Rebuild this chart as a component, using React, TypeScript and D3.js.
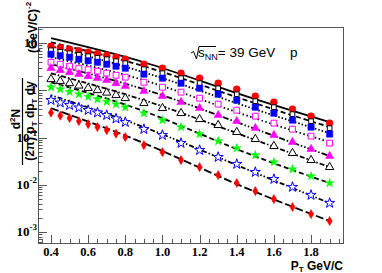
import React, { useEffect, useRef } from "react";
import * as d3 from "d3";

// pT bins (GeV/c)
const pt = [0.4, 0.45, 0.5, 0.55, 0.6, 0.65, 0.7, 0.75, 0.8, 0.9, 1.0, 1.1, 1.2, 1.3, 1.4, 1.5, 1.6, 1.7, 1.8, 1.9];

// spectra, top to bottom
const redCircles = [8.64, 8.03, 7.46, 6.94, 6.45, 6.0, 5.57, 5.05, 4.59, 3.59, 2.96, 2.32, 1.82, 1.42, 1.06, 0.756, 0.564, 0.401, 0.285, 0.203];
const blackOpenSquares = [7.11, 6.61, 6.14, 5.71, 5.31, 4.94, 4.58, 4.16, 3.78, 2.81, 2.32, 1.82, 1.43, 1.11, 0.83, 0.593, 0.442, 0.314, 0.223, 0.159];
const blueSquares = [5.85, 5.44, 5.05, 4.59, 4.26, 3.96, 3.59, 3.26, 2.96, 2.21, 1.82, 1.42, 1.12, 0.833, 0.622, 0.442, 0.33, 0.235, 0.167, 0.119];
const magentaOpenSquares = [3.96, 3.59, 3.26, 2.96, 2.75, 2.56, 2.32, 2.1, 1.91, 1.49, 1.17, 0.918, 0.685, 0.512, 0.382, 0.285, 0.203, 0.151, 0.1076, 0.0765];
const magentaTriangles = [2.96, 2.68, 2.43, 2.21, 2.0, 1.82, 1.65, 1.42, 1.23, 0.964, 0.756, 0.564, 0.421, 0.299, 0.223, 0.159, 0.113, 0.0803, 0.0571, 0.0406];
const blackOpenTriangles = [1.73, 1.57, 1.42, 1.26, 1.12, 1.01, 0.896, 0.793, 0.685, 0.537, 0.421, 0.33, 0.246, 0.184, 0.131, 0.093, 0.0661, 0.047, 0.0334, 0.0237];
const greenStars = [1.17, 1.06, 0.941, 0.833, 0.737, 0.653, 0.578, 0.512, 0.442, 0.33, 0.235, 0.167, 0.119, 0.0843, 0.06, 0.0426, 0.0303, 0.0215, 0.0153, 0.0109];
const blueOpenStars = [0.622, 0.55, 0.487, 0.431, 0.382, 0.338, 0.299, 0.252, 0.213, 0.151, 0.113, 0.0765, 0.0544, 0.0387, 0.0275, 0.0186, 0.0132, 0.00896, 0.00607, 0.00411];
const redDiamonds = [0.338, 0.292, 0.259, 0.223, 0.193, 0.167, 0.144, 0.1215, 0.1025, 0.0694, 0.0493, 0.0334, 0.0237, 0.0161, 0.0109, 0.00737, 0.00499, 0.00338, 0.0024, 0.00171];

// fit curves, sampled at a few pT
const fitPt = [0.4, 0.9, 1.4, 1.9];
const fitRedCircles = [12.8, 3.96, 0.875, 0.213];
const fitBlackOpenSquares = [10.5, 3.26, 0.72, 0.167];
const fitBlueSquares = [8.64, 2.43, 0.537, 0.1245];
const fitMagentaOpenSquares = [5.05, 1.65, 0.347, 0.0803];
const fitMagentaTriangles = [3.59, 1.06, 0.213, 0.0406];
const fitBlackOpenTriangles = [2.32, 0.622, 0.1245, 0.0237];
const fitGreenStars = [1.49, 0.364, 0.0571, 0.0109];
const fitBlueOpenStars = [0.793, 0.167, 0.0262, 0.00411];
const fitRedDiamonds = [0.421, 0.0765, 0.01037, 0.00171];

const xTickLabels = [0.4, 0.6, 0.8, 1.0, 1.2, 1.4, 1.6, 1.8];
const yDecades = [-3, -2, -1, 0, 1];

const series = [
  { vals: redCircles, fit: fitRedCircles, sym: d3.symbolCircle, size: 38, color: "#ff0000", filled: true, dash: null },
  { vals: blackOpenSquares, fit: fitBlackOpenSquares, sym: d3.symbolSquare, size: 22, color: "#000", filled: false, dash: "5 3" },
  { vals: blueSquares, fit: fitBlueSquares, sym: d3.symbolSquare, size: 40, color: "#0000ff", filled: true, dash: "1.5 2" },
  { vals: magentaOpenSquares, fit: fitMagentaOpenSquares, sym: d3.symbolSquare, size: 34, color: "#ff00ff", filled: false, dash: "1.5 2.5" },
  { vals: magentaTriangles, fit: fitMagentaTriangles, sym: d3.symbolTriangle, size: 30, color: "#ff00ff", filled: true, dash: "6 2 1.5 2 1.5 2" },
  { vals: blackOpenTriangles, fit: fitBlackOpenTriangles, sym: d3.symbolTriangle, size: 30, color: "#000", filled: false, dash: "5 2 1.5 2" },
  { vals: greenStars, fit: fitGreenStars, sym: d3.symbolStar, size: 24, color: "#00ff00", filled: true, dash: "5 3" },
  { vals: blueOpenStars, fit: fitBlueOpenStars, sym: d3.symbolStar, size: 32, color: "#0000ff", filled: false, dash: "1.5 2 1.5 2 5 2" },
  { vals: redDiamonds, fit: fitRedDiamonds, sym: d3.symbolDiamond, size: 24, color: "#ff0000", filled: true, dash: "8 3" },
];

const W = 382, H = 273;
const frame = { left: 38, right: 343, top: 27, bottom: 243 };

const App = () => {
  const svgRef = useRef<SVGSVGElement>(null);

  useEffect(() => {
    const svg = d3.select(svgRef.current);
    svg.selectAll("*").remove();

    const x = d3.scaleLinear().domain([0.33, 1.972]).range([frame.left, frame.right]);
    const y = d3.scaleLog().domain([5.85e-4, 22.1]).range([frame.bottom, frame.top]);

    const serif = "'Liberation Serif', 'DejaVu Serif', serif";
    const sans = "'Liberation Sans', Arial, sans-serif";

    // frame
    svg.append("rect")
      .attr("x", frame.left + 0.5).attr("y", frame.top + 0.5)
      .attr("width", frame.right - frame.left).attr("height", frame.bottom - frame.top)
      .attr("fill", "none").attr("stroke", "#555");

    // y ticks (inside)
    const yt = svg.append("g");
    y.ticks().forEach((t) => {
      const major = Math.abs(Math.log10(t) - Math.round(Math.log10(t))) < 1e-6;
      const yy = Math.round(y(t)) + 0.5;
      yt.append("line")
        .attr("x1", frame.left).attr("x2", frame.left + (major ? 9 : 4.5))
        .attr("y1", yy).attr("y2", yy)
        .attr("stroke", "#555");
    });
    yDecades.forEach((e) => {
      const t = svg.append("text")
        .attr("x", frame.left - 1)
        .attr("y", y(Math.pow(10, e)) + 4)
        .attr("text-anchor", "end")
        .attr("font-family", serif).attr("font-weight", "bold").attr("font-size", 13);
      if (e === 0) t.text("1");
      else if (e === 1) t.text("10");
      else {
        t.append("tspan").text("10");
        t.append("tspan").attr("dy", -6).attr("font-size", 9).text(String(e));
      }
    });

    // x ticks (inside)
    const xt = svg.append("g");
    d3.range(7, 40).map((i) => i * 0.05).filter((v) => x(v) >= frame.left && x(v) <= frame.right).forEach((v) => {
      const major = Math.abs(v * 5 - Math.round(v * 5)) < 1e-6;
      const xx = Math.round(x(v)) + 0.5;
      xt.append("line")
        .attr("x1", xx).attr("x2", xx)
        .attr("y1", frame.bottom).attr("y2", frame.bottom - (major ? 8 : 4))
        .attr("stroke", "#555");
    });
    svg.append("g").selectAll("text").data(xTickLabels).enter().append("text")
      .attr("x", (d) => x(d)).attr("y", 256)
      .attr("text-anchor", "middle")
      .attr("font-family", serif).attr("font-weight", "bold").attr("font-size", 12.5)
      .text((d) => d.toFixed(1));

    // fit curves
    const line = d3.line<number>()
      .x((_, i) => x(fitPt[i]))
      .y((d) => y(d))
      .curve(d3.curveNatural);
    series.forEach((s) => {
      svg.append("path")
        .attr("d", line(s.fit))
        .attr("fill", "none")
        .attr("stroke", "#000")
        .attr("stroke-width", 1.8)
        .attr("stroke-dasharray", s.dash);
    });

    // markers
    series.forEach((s) => {
      const sym = d3.symbol().type(s.sym).size(s.size);
      svg.append("g").selectAll("path").data(s.vals).enter().append("path")
        .attr("d", sym)
        .attr("transform", (d, i) => `translate(${x(pt[i])},${y(d)})`)
        .attr("fill", s.filled ? s.color : "#fff")
        .attr("stroke", s.color)
        .attr("stroke-width", s.filled ? 0.5 : 1);
    });

    // x axis title
    const xl = svg.append("text")
      .attr("x", frame.right).attr("y", 270)
      .attr("text-anchor", "end")
      .attr("font-family", sans).attr("font-weight", "bold").attr("font-size", 12);
    xl.append("tspan").text("P");
    xl.append("tspan").attr("dy", 2).attr("font-size", 8).text("T");
    xl.append("tspan").attr("dy", -2).text(" GeV/C");

    // y axis title (rotated)
    const num = svg.append("text")
      .attr("transform", "translate(20,119) rotate(-90)")
      .attr("text-anchor", "middle")
      .attr("font-family", sans).attr("font-weight", "bold").attr("font-size", 12);
    num.append("tspan").text("d");
    num.append("tspan").attr("dy", -5).attr("font-size", 8).text("2");
    num.append("tspan").attr("dy", 5).text("N");

    svg.append("line")
      .attr("x1", 22.5).attr("x2", 22.5).attr("y1", 78).attr("y2", 165)
      .attr("stroke", "#000").attr("stroke-width", 1.2);

    const den = svg.append("text")
      .attr("transform", "translate(34,121) rotate(-90)")
      .attr("text-anchor", "middle")
      .attr("font-family", sans).attr("font-weight", "bold").attr("font-size", 12);
    den.append("tspan").text("(2\u03c0) p");
    den.append("tspan").attr("dy", 3).attr("font-size", 8).text("T");
    den.append("tspan").attr("dy", -3).text(" dp");
    den.append("tspan").attr("dy", 3).attr("font-size", 8).text("T");
    den.append("tspan").attr("dy", -3).text(" dy");

    const unit = svg.append("text")
      .attr("transform", "translate(37,53) rotate(-90)")
      .attr("font-family", sans).attr("font-weight", "bold").attr("font-size", 12);
    unit.append("tspan").text("(GeV/C)");
    unit.append("tspan").attr("dy", -6).attr("font-size", 8).text("-2");

    // energy annotation
    svg.append("path")
      .attr("d", "M191,53 L193.5,51.5 L196.5,59 L199,46.5 L216,46.5")
      .attr("fill", "none").attr("stroke", "#000").attr("stroke-width", 1);
    const ann = svg.append("text")
      .attr("x", 198).attr("y", 57)
      .attr("font-family", sans).attr("font-size", 13.5);
    ann.append("tspan").text("s");
    ann.append("tspan").attr("dy", 3).attr("font-size", 9).text("NN");
    ann.append("tspan").attr("dy", -3).text("= 39 GeV");
    svg.append("text")
      .attr("x", 290).attr("y", 57)
      .attr("font-family", sans).attr("font-size", 13.5)
      .text("p");
  }, []);

  return (
    <svg
      ref={svgRef}
      width={W}
      height={H}
      style={{ position: "absolute", left: 0, top: 0, background: "#fff" }}
    />
  );
};

export default App;
